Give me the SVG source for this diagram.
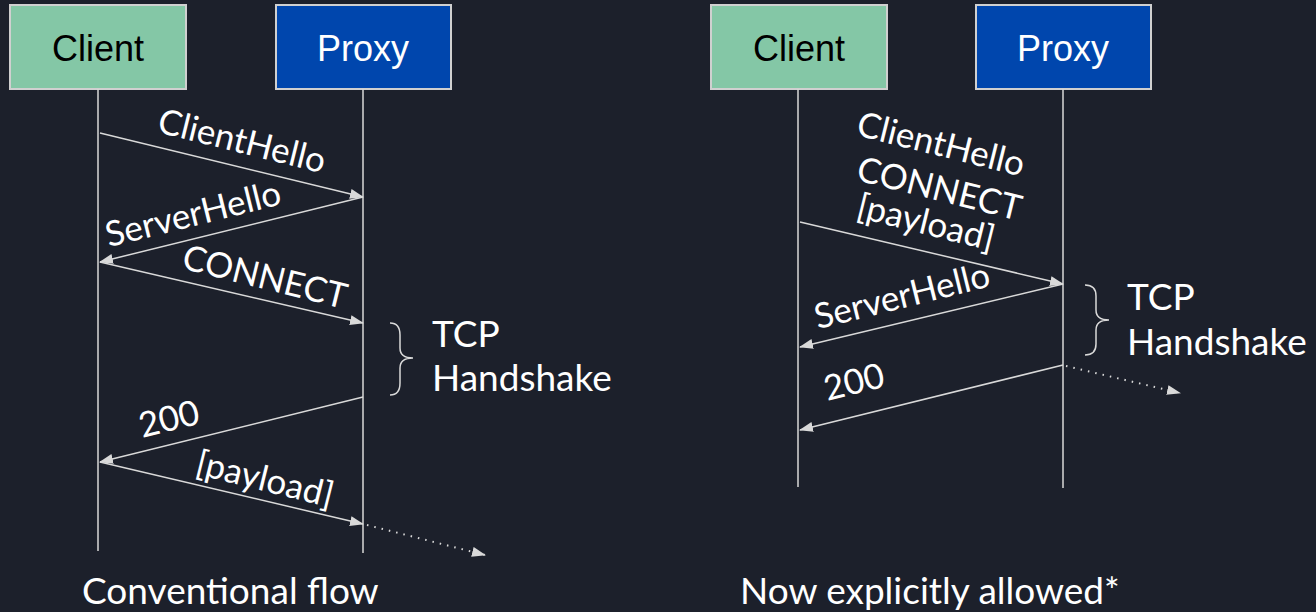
<svg xmlns="http://www.w3.org/2000/svg" width="1316" height="612" viewBox="0 0 1316 612">
<style>
.bg{fill:#1c202b}
.client{fill:#84c7a6;stroke:#d0d0d0;stroke-width:2}
.proxy{fill:#0046ad;stroke:#d0d0d0;stroke-width:2}
.box{font-family:"Liberation Sans",Arial,sans-serif;font-size:36px;text-anchor:middle}
.life{stroke:#d9d9d9;stroke-width:1.5;fill:none}
.msg{stroke:#d9d9d9;stroke-width:1.5;fill:none;marker-end:url(#ah)}
.dot{stroke:#d9d9d9;stroke-width:2;fill:none;stroke-dasharray:1.5 6;marker-end:url(#ah)}
.lbl{font-family:Lato,"Open Sans",sans-serif;font-size:35px;fill:#ffffff}
.note{font-family:Lato,"Open Sans",sans-serif;font-size:37px;fill:#ffffff}
.brace{stroke:#d9d9d9;stroke-width:1.5;fill:none}
</style>
<defs>
<marker id="ah" markerWidth="14" markerHeight="10" refX="13" refY="5" orient="auto" markerUnits="userSpaceOnUse">
<path d="M0,0 L14,5 L0,10 z" fill="#d9d9d9"/>
</marker>
</defs>
<rect class="bg" x="0" y="0" width="1316" height="612"/>

<g id="left-client">
<rect class="client" x="10" y="5" width="176" height="84"/>
<text class="box" x="98" y="61" fill="#000">Client</text>
</g>
<g id="left-proxy">
<rect class="proxy" x="276" y="5" width="175" height="84"/>
<text class="box" x="363" y="61" fill="#fff">Proxy</text>
</g>
<g id="right-client">
<rect class="client" x="711" y="5" width="176" height="84"/>
<text class="box" x="799" y="61" fill="#000">Client</text>
</g>
<g id="right-proxy">
<rect class="proxy" x="976" y="5" width="175" height="84"/>
<text class="box" x="1063" y="61" fill="#fff">Proxy</text>
</g>

<g id="connectors">
<line class="life" x1="98" y1="89" x2="98" y2="551"/>
<line class="life" x1="363" y1="89" x2="363" y2="553"/>
<line class="life" x1="798" y1="89" x2="798" y2="487"/>
<line class="life" x1="1063" y1="89" x2="1063" y2="488"/>

<line class="msg" x1="100" y1="133" x2="363" y2="197"/>
<line class="msg" x1="363" y1="197" x2="100" y2="262"/>
<line class="msg" x1="100" y1="262" x2="363" y2="323"/>
<line class="msg" x1="363" y1="397" x2="100" y2="462"/>
<line class="msg" x1="100" y1="462" x2="363" y2="524"/>
<line class="dot" x1="367" y1="525" x2="485" y2="555"/>

<line class="msg" x1="800" y1="222" x2="1063" y2="284"/>
<line class="msg" x1="1063" y1="284" x2="800" y2="347"/>
<line class="msg" x1="1063" y1="365" x2="800" y2="430"/>
<line class="dot" x1="1066" y1="366" x2="1180" y2="393"/>
</g>

<g id="labels">
<text class="lbl" text-anchor="middle" transform="translate(242,141) rotate(14)" y="12">ClientHello</text>
<text class="lbl" text-anchor="middle" transform="translate(193,214) rotate(-14)" y="12">ServerHello</text>
<text class="lbl" text-anchor="middle" transform="translate(265,277) rotate(14)" y="12">CONNECT</text>
<text class="lbl" text-anchor="middle" transform="translate(169,419) rotate(-14)" y="12">200</text>
<text class="lbl" text-anchor="middle" transform="translate(265,479) rotate(14)" y="12">[payload]</text>

<text class="lbl" text-anchor="start" transform="translate(855,135) rotate(14)">ClientHello</text>
<text class="lbl" text-anchor="start" transform="translate(855,180) rotate(14)">CONNECT</text>
<text class="lbl" text-anchor="start" transform="translate(855,217) rotate(14)">[payload]</text>
<text class="lbl" text-anchor="middle" transform="translate(902,296) rotate(-14)" y="12">ServerHello</text>
<text class="lbl" text-anchor="middle" transform="translate(854,382) rotate(-14)" y="12">200</text>
</g>

<g id="left-handshake">
<path class="brace" d="M390,323 Q400,323 400,335 L400,348 Q400,358 413,358 Q400,358 400,368 L400,383 Q400,395 390,395"/>
<text class="note" x="432" y="347">TCP</text>
<text class="note" x="432" y="391">Handshake</text>
</g>
<g id="right-handshake">
<path class="brace" d="M1085,285 Q1096,285 1096,296 L1096,310 Q1096,320 1109,320 Q1096,320 1096,330 L1096,344 Q1096,355 1085,355"/>
<text class="note" x="1127" y="310">TCP</text>
<text class="note" x="1127" y="355">Handshake</text>
</g>

<text class="note" x="82" y="604">Conventional flow</text>
<text class="note" x="740" y="604">Now explicitly allowed*</text>
</svg>
